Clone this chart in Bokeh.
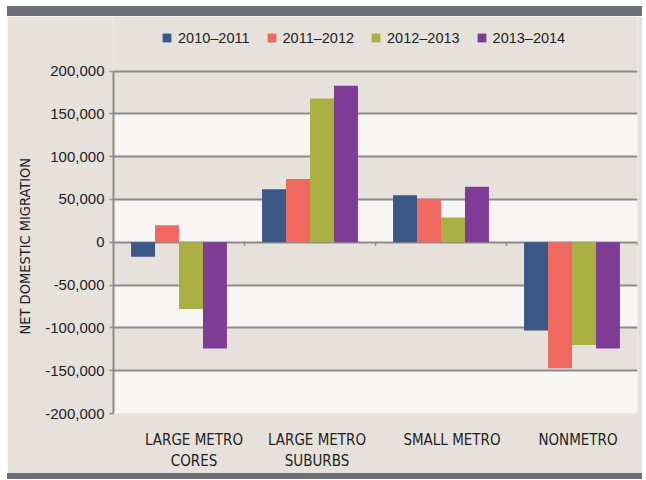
from bokeh.plotting import figure
from bokeh.models import (Range1d, FixedTicker, NumeralTickFormatter, Legend, LegendItem,
                          Div, ColumnDataSource, BoxAnnotation, Title)
from bokeh.transform import dodge
from bokeh.layouts import column
from bokeh.embed import file_html
from bokeh.resources import INLINE

# ---- data ----
categories = ["LARGE METRO\nCORES", "LARGE METRO\nSUBURBS", "SMALL METRO", "NONMETRO"]
series = ["2010\u20132011", "2011\u20132012", "2012\u20132013", "2013\u20132014"]
v2010_2011 = [-17000, 62000, 55000, -103000]
v2011_2012 = [20000, 74000, 51000, -147000]
v2012_2013 = [-78000, 168000, 29000, -120000]
v2013_2014 = [-124000, 183000, 65000, -124000]
y_ticks = [-200000, -150000, -100000, -50000, 0, 50000, 100000, 150000, 200000]
y_min, y_max = -200000, 200000

colors = ["#3B5788", "#F06860", "#AAB042", "#7E3C96"]
BEIGE = "#E7E1DC"
WHITE = "#F7F6F4"
GRID = "#8B8B8B"
DARK = "#6D7078"
TEXT = "#1E1E1E"
COND = "'DejaVu Sans Condensed', 'Liberation Sans'"

# layout (pixels)
FIG_W, FIG_H = 635, 457
BORDER_L, BORDER_R, BORDER_B = 106, 5, 57
LEGEND_SPACE = 55          # room above the 200,000 line for the legend
plot_h = FIG_H - BORDER_B - LEGEND_SPACE
plot_w = FIG_W - BORDER_L - BORDER_R
y_top = y_max + (y_max - y_min) * LEGEND_SPACE / plot_h
label_nudge_px = [15, 7, 11, 6]   # category labels sit a little right of the groups
px_per_cat = plot_w / len(categories)

x_pos = [i + 0.5 for i in range(len(categories))]
label_pos = [x + n / px_per_cat for x, n in zip(x_pos, label_nudge_px)]
src = ColumnDataSource(dict(x=x_pos, s0=v2010_2011, s1=v2011_2012, s2=v2012_2013, s3=v2013_2014))

p = figure(width=FIG_W, height=FIG_H, output_backend="svg", toolbar_location=None,
           x_range=Range1d(0, len(categories)), y_range=Range1d(y_min, y_top),
           min_border_left=BORDER_L, min_border_right=BORDER_R, min_border_top=0,
           min_border_bottom=BORDER_B, margin=(0, 0, 0, 7))
p.border_fill_color = BEIGE
p.background_fill_color = BEIGE
p.outline_line_color = None

# alternating white bands
for lo, hi in zip(y_ticks[0::2], y_ticks[1::2]):
    p.add_layout(BoxAnnotation(bottom=lo, top=hi, fill_color=WHITE, fill_alpha=1.0,
                               line_color=None, level="image"))

p.xgrid.visible = False
p.ygrid.ticker = FixedTicker(ticks=y_ticks)
p.ygrid.grid_line_color = GRID
p.ygrid.grid_line_width = 2

# bars
w = 0.183
offsets = [-1.5 * w, -0.5 * w, 0.5 * w, 1.5 * w]
renderers = []
for k, (name, col) in enumerate(zip(series, colors)):
    r = p.vbar(x=dodge("x", offsets[k], range=p.x_range), top="s%d" % k, bottom=0, width=w,
               source=src, fill_color=col, line_color=None)
    renderers.append(r)

# small ticks on the zero line at category boundaries
bounds = list(range(len(categories) + 1))
p.segment(x0=bounds, y0=[0] * len(bounds), x1=bounds, y1=[-4000] * len(bounds),
          line_color=GRID, line_width=1.5)

# y axis
ya = p.yaxis[0]
ya.bounds = (y_min, y_max)
ya.ticker = FixedTicker(ticks=y_ticks)
ya.formatter = NumeralTickFormatter(format="0,0")
ya.axis_line_color = GRID
ya.axis_line_width = 2
ya.major_tick_line_color = GRID
ya.major_tick_line_width = 1.5
ya.major_tick_out = 4
ya.major_tick_in = 0
ya.minor_tick_line_color = None
ya.major_label_standoff = 5
ya.major_label_text_font = "Liberation Sans"
ya.major_label_text_font_size = "15px"
ya.major_label_text_color = TEXT

# y axis title, centred on the -200,000..200,000 span (not on the taller frame)
ytitle = Title(text="NET DOMESTIC MIGRATION", align="left", offset=79, standoff=17,
               vertical_align="middle", text_font=COND, text_font_size="14.5px",
               text_font_style="normal", text_color=TEXT)
p.add_layout(ytitle, "left")

# x axis
xa = p.xaxis[0]
xa.ticker = FixedTicker(ticks=label_pos)
xa.major_label_overrides = {x: c for x, c in zip(label_pos, categories)}
xa.axis_line_color = None
xa.major_tick_line_color = None
xa.minor_tick_line_color = None
xa.major_label_standoff = 11
xa.major_label_text_font = COND
xa.major_label_text_font_size = "15px"
xa.major_label_text_color = TEXT

# legend (in the strip above the 200,000 line)
items = [LegendItem(label=s, renderers=[r]) for s, r in zip(series, renderers)]
legend = Legend(items=items, orientation="horizontal", location=(48, plot_h + 20),
                glyph_width=11, glyph_height=11, label_standoff=6, spacing=16,
                padding=0, margin=0, background_fill_alpha=0, border_line_color=None,
                label_text_font="Liberation Sans", label_text_font_size="14.5px",
                label_text_color=TEXT, label_height=21)
p.add_layout(legend, "center")

top_band = Div(width=FIG_W, height=10, margin=(6, 0, 0, 7), styles={"background-color": DARK})
bottom_band = Div(width=FIG_W, height=6, margin=(0, 0, 0, 7), styles={"background-color": DARK})
layout = column(top_band, p, bottom_band, spacing=0, margin=0)

open("out.html", "w").write(file_html(layout, INLINE))
